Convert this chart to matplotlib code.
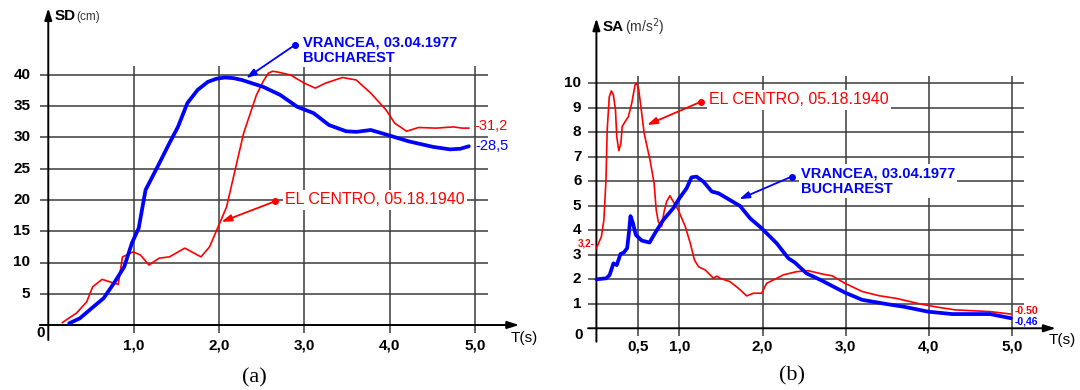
import matplotlib
matplotlib.use('Agg')
import matplotlib.pyplot as plt

# ---------------- data: panel (a) spectral displacement SD (cm) ----------------
sd_el_T = [0.165, 0.33, 0.45, 0.52, 0.63, 0.77, 0.82, 0.87, 0.995, 1.08, 1.18, 1.30,
           1.42, 1.60, 1.79, 1.89, 2.01, 2.09, 2.19, 2.29, 2.44, 2.52, 2.58, 2.63,
           2.68, 2.84, 3.00, 3.13, 3.25, 3.45, 3.61, 3.78, 3.96, 4.06, 4.20, 4.34,
           4.55, 4.75, 4.85, 4.93]
sd_el = [0.4, 1.9, 3.7, 6.1, 7.3, 6.7, 6.5, 10.9, 11.7, 11.2, 9.6, 10.7,
         10.9, 12.3, 10.9, 12.5, 16.3, 18.9, 24.8, 30.7, 36.8, 39.0, 40.3, 40.6,
         40.5, 40.0, 38.7, 37.9, 38.7, 39.6, 39.2, 37.1, 34.4, 32.3, 31.0, 31.6,
         31.5, 31.7, 31.5, 31.5]

sd_vr_T = [0.245, 0.37, 0.51, 0.65, 0.77, 0.89, 0.98, 1.06, 1.14, 1.28, 1.42, 1.52,
           1.63, 1.75, 1.87, 1.97, 2.07, 2.17, 2.27, 2.52, 2.72, 2.92, 3.11, 3.29,
           3.49, 3.61, 3.78, 3.98, 4.22, 4.51, 4.71, 4.83, 4.93]
sd_vr = [0.27, 1.07, 2.7, 4.3, 6.7, 9.3, 13.1, 15.5, 21.6, 25.3, 29.1, 31.7,
         35.5, 37.6, 38.9, 39.4, 39.6, 39.5, 39.2, 38.1, 36.8, 34.9, 33.9, 32.0,
         31.0, 30.9, 31.2, 30.4, 29.4, 28.5, 28.1, 28.2, 28.6]

sd_yticks = [5, 10, 15, 20, 25, 30, 35, 40]
sd_xticks = [1, 2, 3, 4, 5]
sd_xlabels = ['1,0', '2,0', '3,0', '4,0', '5,0']

# ---------------- data: panel (b) spectral acceleration SA (m/s2) ----------------
sa_el_T = [0.0, 0.06, 0.09, 0.115, 0.13, 0.155, 0.18, 0.205, 0.23, 0.245, 0.27, 0.295,
           0.31, 0.345, 0.385, 0.425, 0.465, 0.485, 0.51, 0.545, 0.575, 0.645, 0.695,
           0.72, 0.745, 0.785, 0.815, 0.845, 0.885, 0.925, 0.985, 1.07, 1.13, 1.18,
           1.23, 1.31, 1.41, 1.45, 1.49, 1.61, 1.71, 1.81, 1.89, 1.99, 2.05, 2.13,
           2.25, 2.41, 2.55, 2.74, 2.84, 2.99, 3.20, 3.40, 3.61, 3.90, 4.11, 4.32,
           4.74, 4.99]
sa_el = [3.27, 3.74, 4.42, 6.05, 8.1, 9.45, 9.69, 9.52, 8.9, 7.82, 7.25, 7.55,
         8.23, 8.43, 8.64, 9.18, 9.93, 10.02, 9.73, 8.79, 7.96, 6.87, 5.92,
         4.83, 4.35, 4.15, 4.76, 5.17, 5.41, 5.17, 4.83, 4.15, 3.47, 2.79,
         2.51, 2.38, 2.04, 2.13, 2.04, 1.9, 1.63, 1.32, 1.43, 1.43, 1.84, 1.97,
         2.18, 2.31, 2.35, 2.2, 2.14, 1.84, 1.5, 1.33, 1.22, 0.99, 0.86, 0.75,
         0.68, 0.58]

sa_vr_T = [0.0, 0.12, 0.16, 0.205, 0.245, 0.29, 0.33, 0.37, 0.395, 0.41, 0.435, 0.475,
           0.545, 0.64, 0.705, 0.805, 0.925, 1.0, 1.085, 1.145, 1.205, 1.29, 1.39,
           1.47, 1.57, 1.73, 1.85, 1.99, 2.17, 2.31, 2.39, 2.53, 2.70, 2.99, 3.20,
           3.49, 3.70, 3.99, 4.28, 4.74, 4.99]
sa_vr = [2.0, 2.04, 2.18, 2.65, 2.58, 3.03, 3.09, 3.27, 4.01, 4.58, 4.35, 3.81,
         3.58, 3.5, 3.88, 4.42, 4.9, 5.31, 5.71, 6.16, 6.19, 5.98, 5.58,
         5.51, 5.31, 4.99, 4.49, 4.08, 3.47, 2.86, 2.68, 2.24, 1.97, 1.46, 1.16,
         0.99, 0.88, 0.68, 0.58, 0.58, 0.41]

sa_yticks = [1, 2, 3, 4, 5, 6, 7, 8, 9, 10]
sa_xticks = [0.5, 1, 2, 3, 4, 5]
sa_xlabels = ['0,5', '1,0', '2,0', '3,0', '4,0', '5,0']

RED = '#ff0000'
BLUE = '#0000ff'
GRID = '#3a3a3a'
SANS = 'Liberation Sans'
SERIF = 'Liberation Serif'

fig = plt.figure(figsize=(10.8, 3.9), dpi=100)
fig.patch.set_facecolor('white')

axA = fig.add_axes([0, 0, 0.5, 1])
axA.set_xlim(-0.566, 5.764)
axA.set_ylim(-10.4, 52)
axA.axis('off')

axB = fig.add_axes([0.5, 0, 0.5, 1])
axB.set_xlim(-0.679, 5.822)
axB.set_ylim(-2.52, 13.4)
axB.axis('off')


def axis_arrow(ax, start, tip):
    ax.annotate('', xy=tip, xytext=start,
                arrowprops=dict(arrowstyle='-|>,head_length=0.7,head_width=0.22',
                                lw=1.4, color='black', shrinkA=0, shrinkB=0),
                zorder=3)


def callout(ax, text, dot, head, tpos, color, weight, size):
    ax.annotate('', xy=head, xytext=dot,
                arrowprops=dict(arrowstyle='-|>,head_length=0.6,head_width=0.2',
                                lw=1.3, color=color, shrinkA=0, shrinkB=0),
                zorder=6)
    ax.plot([dot[0]], [dot[1]], 'o', color=color, ms=4, zorder=7)
    ax.text(tpos[0], tpos[1], text, color=color, fontsize=size, fontweight=weight,
            family=SANS, ha='left', va='center', linespacing=1.15, zorder=5,
            bbox=dict(facecolor='white', edgecolor='none', pad=1.5))


# ---------------- panel (a) ----------------
ax = axA
for y in sd_yticks:
    ax.hlines(y, -0.1, 5.15, color=GRID, lw=1.1, zorder=1)
    ax.text(-0.21, y, str(y), ha='right', va='center', fontsize=11,
            fontweight='bold', family=SANS)
for x, lab in zip(sd_xticks, sd_xlabels):
    ax.vlines(x, -1.2, 41.5, color=GRID, lw=1.1, zorder=1)
    ax.text(x, -3.2, lab, ha='center', va='center', fontsize=11,
            fontweight='bold', family=SANS)
ax.text(-0.09, -1.3, '0', ha='center', va='center', fontsize=11,
        fontweight='bold', family=SANS)
axis_arrow(ax, (-0.1, 0), (5.52, 0))
axis_arrow(ax, (0, -2.4), (0, 50.7))
ax.text(0.08, 49.4, 'SD', ha='left', va='center', fontsize=11,
        fontweight='bold', family=SANS)
ax.text(0.33, 49.3, '(cm)', ha='left', va='center', fontsize=8.5,
        color='#333333', family=SANS)
ax.text(5.42, -2.1, 'T(s)', ha='left', va='center', fontsize=11, family=SANS)
ax.text(2.42, -8.5, '(a)', ha='center', va='center', fontsize=16, family=SERIF)

ax.plot(sd_el_T, sd_el, color=RED, lw=1.2, zorder=4, solid_joinstyle='round')
ax.plot(sd_vr_T, sd_vr, color=BLUE, lw=2.7, zorder=4, solid_capstyle='round',
        solid_joinstyle='round')
ax.text(4.99, 31.8, '-31,2', color=RED, fontsize=10.5, family=SANS,
        ha='left', va='center')
ax.text(5.01, 28.6, '-28,5', color=BLUE, fontsize=10.5, family=SANS,
        ha='left', va='center')

callout(ax, 'VRANCEA, 03.04.1977\nBUCHAREST', (2.89, 44.8), (2.32, 39.5),
        (2.99, 44.0), BLUE, 'bold', 10.5)
callout(ax, 'EL CENTRO, 05.18.1940', (2.66, 19.8), (2.03, 16.5),
        (2.78, 20.0), RED, 'normal', 11.5)

# ---------------- panel (b) ----------------
ax = axB
for y in sa_yticks:
    ax.hlines(y, -0.1, 5.15, color=GRID, lw=1.1, zorder=1)
    ax.text(-0.18, y, str(y), ha='right', va='center', fontsize=11,
            fontweight='bold', family=SANS)
for x, lab in zip(sa_xticks, sa_xlabels):
    ax.vlines(x, -0.3, 10.3, color=GRID, lw=1.1, zorder=1)
    ax.text(x, -0.76, lab, ha='center', va='center', fontsize=11,
            fontweight='bold', family=SANS)
ax.text(-0.22, -0.27, '0', ha='center', va='center', fontsize=11,
        fontweight='bold', family=SANS)
axis_arrow(ax, (-0.1, 0), (5.53, 0))
axis_arrow(ax, (0, -0.55), (0, 12.65))
ax.text(0.08, 12.3, 'SA', ha='left', va='center', fontsize=11,
        fontweight='bold', family=SANS)
ax.text(0.345, 12.3, '(m/s$^2$)', ha='left', va='center', fontsize=10,
        color='#333333', family=SANS)
ax.text(5.45, -0.48, 'T(s)', ha='left', va='center', fontsize=11, family=SANS)
ax.text(2.36, -1.95, '(b)', ha='center', va='center', fontsize=16, family=SERIF)

ax.plot(sa_el_T, sa_el, color=RED, lw=1.2, zorder=4, solid_joinstyle='round')
ax.plot(sa_vr_T, sa_vr, color=BLUE, lw=2.7, zorder=4, solid_capstyle='round',
        solid_joinstyle='round')
ax.text(-0.02, 3.45, '3,2-', color=RED, fontsize=7, fontweight='bold',
        family=SANS, ha='right', va='center')
ax.text(5.03, 0.70, '-0.50', color=RED, fontsize=7.5, fontweight='bold',
        family=SANS, ha='left', va='center')
ax.text(5.03, 0.29, '-0,46', color=BLUE, fontsize=7.5, fontweight='bold',
        family=SANS, ha='left', va='center')

callout(ax, 'EL CENTRO, 05.18.1940', (1.26, 9.25), (0.61, 8.3),
        (1.36, 9.32), RED, 'normal', 11.5)
callout(ax, 'VRANCEA, 03.04.1977\nBUCHAREST', (2.35, 6.19), (1.72, 5.27),
        (2.46, 6.0), BLUE, 'bold', 10.5)

fig.savefig('out.png', dpi=100, facecolor='white')
